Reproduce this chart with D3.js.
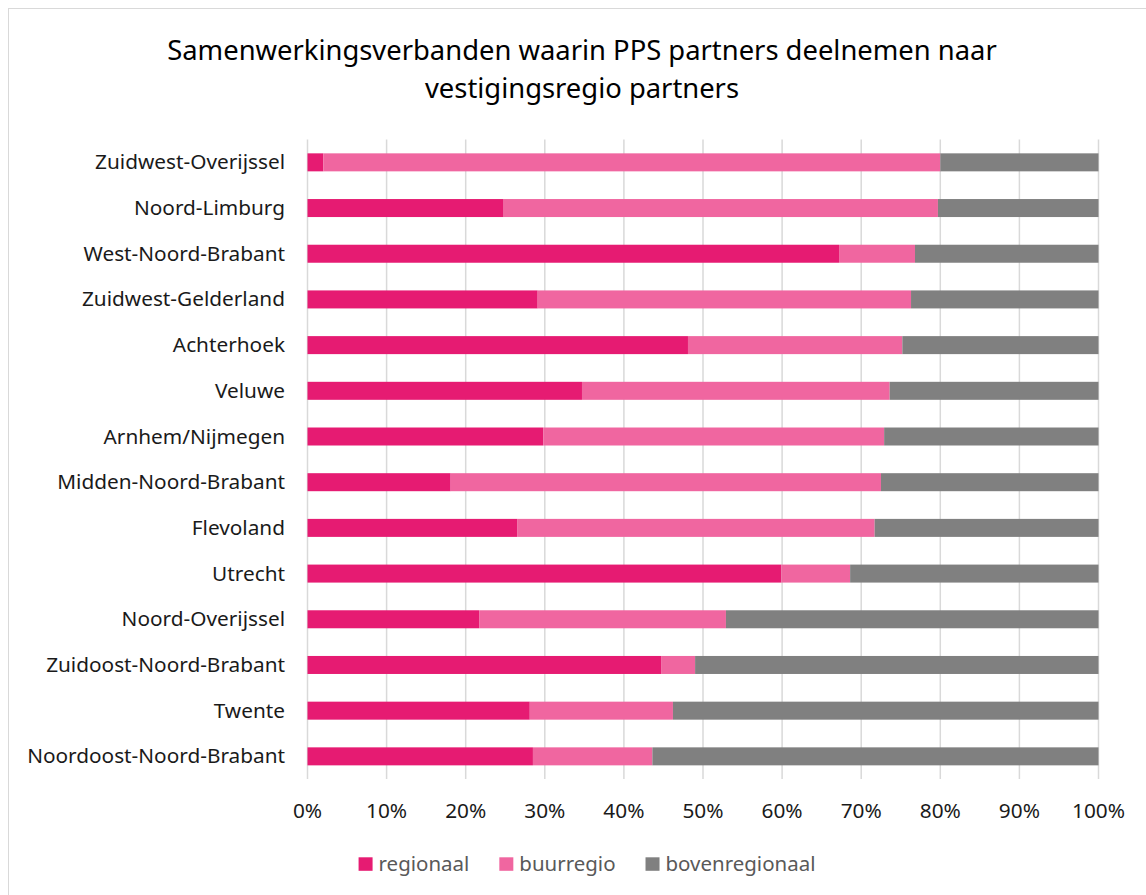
<!DOCTYPE html>
<html>
<head>
<meta charset="utf-8">
<script src="https://cdn.jsdelivr.net/npm/d3@7"></script>
<style>
  html, body { margin: 0; padding: 0; background: #fff; }
  svg { display: block; }
  text { font-family: "Noto Sans", "Open Sans", sans-serif; }
</style>
</head>
<body>
<svg id="chart" width="1146" height="895"></svg>
<script>
const categories = [
  "Zuidwest-Overijssel", "Noord-Limburg", "West-Noord-Brabant", "Zuidwest-Gelderland",
  "Achterhoek", "Veluwe", "Arnhem/Nijmegen", "Midden-Noord-Brabant", "Flevoland",
  "Utrecht", "Noord-Overijssel", "Zuidoost-Noord-Brabant", "Twente", "Noordoost-Noord-Brabant"
];
const regionaal = [2.0, 24.8, 67.2, 29.1, 48.1, 34.7, 29.8, 18.1, 26.5, 59.9, 21.7, 44.7, 28.1, 28.5];
const buurregio = [78.0, 54.9, 9.6, 47.2, 27.1, 38.9, 43.1, 54.4, 45.2, 8.7, 31.2, 4.3, 18.1, 15.1];
const bovenregionaal = categories.map((c, i) => 100 - regionaal[i] - buurregio[i]);
const seriesNames = ["regionaal", "buurregio", "bovenregionaal"];
const seriesColors = ["#E61B72", "#F066A0", "#808080"];
const tickValues = [0, 10, 20, 30, 40, 50, 60, 70, 80, 90, 100];
const titleLines = ["Samenwerkingsverbanden waarin PPS partners deelnemen naar", "vestigingsregio partners"];

const svg = d3.select("#chart");

// fit a font size so that a text reaches a given width
function fitSize(str, target, base) {
  const t = svg.append("text").attr("font-size", base).text(str);
  const w = t.node().getComputedTextLength();
  t.remove();
  return base * target / w;
}
const titleSize = fitSize(titleLines[0], 830, 25);
const labelSize = fitSize("Noordoost-Noord-Brabant", 258, 19);
const tickSize = fitSize("100%", 53, 19);
const legendSize = fitSize("bovenregionaal", 150, 19);

// outer border
svg.append("rect").attr("x", 8.5).attr("y", 8.5).attr("width", 1150).attr("height", 900)
  .attr("fill", "none").attr("stroke", "#d9d9d9").attr("stroke-width", 1);

const x = d3.scaleLinear().domain([0, 100]).range([307.5, 1098.5]);
const y = d3.scaleBand().domain(categories).range([139.5, 779.2]).paddingInner(0.606).paddingOuter(0.303);

// gridlines
svg.append("g").selectAll("line").data(tickValues).join("line")
  .attr("x1", d => x(d)).attr("x2", d => x(d))
  .attr("y1", 139.5).attr("y2", 779)
  .attr("stroke", "#d9d9d9").attr("stroke-width", 1.5);

// stacked data
const table = categories.map((c, i) => ({
  cat: c, regionaal: regionaal[i], buurregio: buurregio[i], bovenregionaal: bovenregionaal[i]
}));
const stacked = d3.stack().keys(seriesNames)(table);

svg.append("g").selectAll("g").data(stacked).join("g")
  .attr("fill", (d, i) => seriesColors[i])
  .selectAll("rect").data(d => d).join("rect")
  .attr("x", d => x(d[0]))
  .attr("width", d => x(d[1]) - x(d[0]))
  .attr("y", d => y(d.data.cat))
  .attr("height", y.bandwidth());

// x axis labels
svg.append("g").selectAll("text").data(tickValues).join("text")
  .attr("x", d => x(d)).attr("y", 818)
  .attr("text-anchor", "middle")
  .attr("font-size", tickSize).attr("fill", "#1a1a1a")
  .text(d => d + "%");

// category labels
svg.append("g").selectAll("text").data(categories).join("text")
  .attr("x", 285).attr("y", d => y(d) + y.bandwidth() / 2 + 7)
  .attr("text-anchor", "end")
  .attr("font-size", labelSize).attr("fill", "#1a1a1a")
  .text(d => d);

// title
svg.append("g").selectAll("text").data(titleLines).join("text")
  .attr("x", 582).attr("y", (d, i) => 60 + i * 38)
  .attr("text-anchor", "middle")
  .attr("font-size", titleSize).attr("fill", "#000")
  .text(d => d);

// legend
const legend = svg.append("g");
const items = legend.selectAll("g").data(seriesNames).join("g");
items.append("rect").attr("width", 14).attr("height", 13.5).attr("y", 857.3)
  .attr("fill", (d, i) => seriesColors[i]);
items.append("text").attr("y", 871).attr("x", 20)
  .attr("font-size", legendSize).attr("fill", "#595959")
  .text(d => d);
let widths = [];
items.each(function() { widths.push(d3.select(this).select("text").node().getComputedTextLength() + 20); });
const gap = 30;
const total = d3.sum(widths) + gap * (widths.length - 1);
let cx = 587 - total / 2;
items.each(function(d, i) {
  d3.select(this).attr("transform", `translate(${cx},0)`);
  cx += widths[i] + gap;
});
</script>
</body>
</html>
